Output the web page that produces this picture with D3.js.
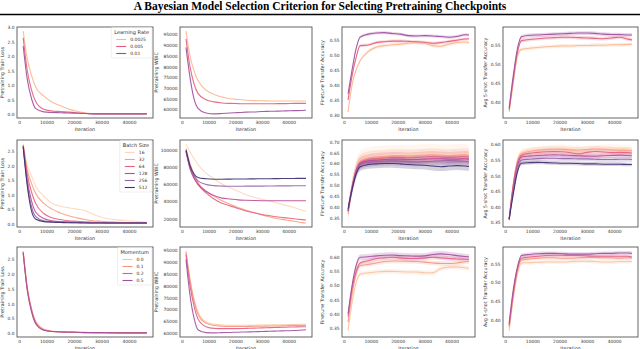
<!DOCTYPE html>
<html>
<head>
<meta charset="utf-8">
<script src="https://cdn.jsdelivr.net/npm/d3@7"></script>
<style>
body { margin: 0; background: #fff; }
svg { display: block; font-family: "DejaVu Sans", sans-serif; }
</style>
</head>
<body>
<svg id="chart" width="640" height="349"></svg>
<script>
// Data
//= ================================
var iters = [1500, 3000, 4500, 6000, 9000, 12000, 15000, 18000, 21000, 24000, 27000, 30000, 33000, 36000, 39000, 42000, 45000, 46500];
var xTicks = [0, 10000, 20000, 30000, 40000];

// row 1: learning rate
var lrNames = ["0.0025", "0.005", "0.01"];
var lrLoss = [
  [2.87, 1.90, 1.35, 0.95, 0.62, 0.42, 0.29, 0.18, 0.10, 0.04, 0.02, 0.01, 0.01, 0.01, 0.01, 0.01, 0.01, 0.01],
  [2.64, 1.50, 0.85, 0.45, 0.17, 0.11, 0.09, 0.07, 0.05, 0.03, 0.01, 0.01, 0.01, 0.01, 0.01, 0.01, 0.01, 0.01],
  [2.35, 1.20, 0.55, 0.20, 0.08, 0.06, 0.05, 0.04, 0.03, 0.02, 0.01, 0.01, 0.01, 0.01, 0.01, 0.01, 0.01, 0.01]
];
var lrWbic = [
  [96600, 85000, 78000, 73500, 69000, 67000, 65800, 65000, 64600, 64300, 64100, 64000, 63900, 63900, 63900, 63900, 63900, 63900],
  [93000, 80000, 72000, 67500, 64500, 63500, 63000, 62800, 62700, 62600, 62600, 62600, 62600, 62700, 62700, 62800, 62800, 62800],
  [89000, 75000, 65000, 60500, 58300, 57900, 58100, 58300, 58500, 58700, 58800, 59000, 59100, 59200, 59300, 59400, 59500, 59600]
];
var lrFinetune = [
  [0.310, 0.400, 0.450, 0.480, 0.510, 0.525, 0.530, 0.533, 0.535, 0.538, 0.540, 0.537, 0.530, 0.528, 0.535, 0.540, 0.542, 0.540],
  [0.350, 0.430, 0.490, 0.530, 0.532, 0.540, 0.543, 0.545, 0.545, 0.544, 0.543, 0.541, 0.538, 0.540, 0.544, 0.548, 0.552, 0.553],
  [0.370, 0.450, 0.520, 0.558, 0.568, 0.572, 0.573, 0.570, 0.568, 0.563, 0.562, 0.563, 0.562, 0.560, 0.558, 0.560, 0.566, 0.565]
];
var lrFinetuneBand = [0.006, 0.005, 0.005];
var lrFewshot = [
  [0.375, 0.450, 0.520, 0.540, 0.543, 0.545, 0.547, 0.548, 0.549, 0.549, 0.550, 0.550, 0.551, 0.551, 0.552, 0.552, 0.553, 0.553],
  [0.380, 0.460, 0.530, 0.563, 0.566, 0.568, 0.570, 0.571, 0.572, 0.572, 0.571, 0.570, 0.569, 0.568, 0.570, 0.572, 0.567, 0.565],
  [0.385, 0.470, 0.540, 0.573, 0.577, 0.578, 0.579, 0.580, 0.581, 0.582, 0.583, 0.583, 0.582, 0.580, 0.579, 0.579, 0.578, 0.578]
];
var lrFewshotBand = [0.005, 0.005, 0.005];

// row 2: batch size
var bsNames = ["16", "32", "64", "128", "256", "512"];
var bsLoss = [
  [2.75, 2.00, 1.65, 1.30, 0.95, 0.70, 0.60, 0.55, 0.50, 0.45, 0.32, 0.22, 0.16, 0.13, 0.10, 0.08, 0.06, 0.05],
  [2.72, 1.85, 1.40, 1.05, 0.70, 0.50, 0.37, 0.27, 0.20, 0.14, 0.10, 0.08, 0.06, 0.05, 0.04, 0.04, 0.03, 0.03],
  [2.70, 1.70, 1.10, 0.70, 0.35, 0.20, 0.14, 0.10, 0.08, 0.06, 0.05, 0.04, 0.03, 0.03, 0.03, 0.02, 0.02, 0.02],
  [2.68, 1.50, 0.80, 0.40, 0.18, 0.10, 0.07, 0.06, 0.05, 0.04, 0.03, 0.03, 0.02, 0.02, 0.02, 0.02, 0.02, 0.02],
  [2.66, 1.38, 0.60, 0.25, 0.10, 0.07, 0.05, 0.04, 0.03, 0.03, 0.02, 0.02, 0.02, 0.02, 0.02, 0.02, 0.02, 0.02],
  [2.65, 1.30, 0.45, 0.16, 0.07, 0.05, 0.04, 0.03, 0.03, 0.02, 0.02, 0.02, 0.02, 0.02, 0.02, 0.02, 0.02, 0.02]
];
var bsWbic = [
  [107000, 98000, 90000, 83000, 73000, 66500, 60500, 56000, 52000, 48000, 45000, 42500, 40500, 38000, 35500, 33000, 30000, 28500],
  [102000, 84000, 72000, 62000, 52000, 46000, 41000, 37000, 33000, 30000, 27000, 24500, 22000, 20000, 18500, 17000, 15500, 15000],
  [98000, 80000, 68000, 60000, 50000, 43000, 38000, 35000, 32000, 29000, 27000, 25000, 23500, 22000, 21000, 20000, 19000, 18500],
  [99000, 78000, 67000, 60000, 52000, 47000, 44000, 43000, 42000, 41500, 41200, 41000, 41000, 41000, 41000, 41000, 41000, 41000],
  [99000, 80000, 70000, 64000, 60000, 58500, 58000, 57800, 57800, 57900, 58000, 58000, 58100, 58200, 58200, 58300, 58300, 58300],
  [100000, 82000, 72000, 68000, 66500, 66000, 66000, 66100, 66200, 66300, 66400, 66500, 66600, 66700, 66800, 66900, 67000, 67000]
];
var bsFinetune = [
  [0.370, 0.490, 0.575, 0.615, 0.630, 0.635, 0.638, 0.640, 0.642, 0.640, 0.642, 0.645, 0.645, 0.643, 0.642, 0.645, 0.645, 0.642],
  [0.370, 0.490, 0.570, 0.610, 0.625, 0.630, 0.632, 0.635, 0.635, 0.634, 0.636, 0.638, 0.640, 0.638, 0.636, 0.638, 0.640, 0.638],
  [0.380, 0.490, 0.570, 0.605, 0.618, 0.622, 0.625, 0.628, 0.628, 0.626, 0.628, 0.630, 0.632, 0.630, 0.628, 0.630, 0.632, 0.630],
  [0.380, 0.490, 0.565, 0.600, 0.612, 0.615, 0.618, 0.620, 0.620, 0.618, 0.618, 0.620, 0.622, 0.622, 0.620, 0.620, 0.622, 0.620],
  [0.380, 0.480, 0.560, 0.595, 0.605, 0.608, 0.610, 0.612, 0.610, 0.608, 0.607, 0.608, 0.610, 0.612, 0.613, 0.612, 0.610, 0.608],
  [0.390, 0.480, 0.550, 0.585, 0.595, 0.598, 0.600, 0.600, 0.598, 0.595, 0.593, 0.592, 0.588, 0.585, 0.588, 0.590, 0.588, 0.586]
];
var bsFinetuneBand = [0.045, 0.03, 0.025, 0.02, 0.02, 0.02];
var bsFewshot = [
  [0.360, 0.470, 0.550, 0.572, 0.580, 0.583, 0.585, 0.587, 0.588, 0.586, 0.585, 0.584, 0.585, 0.588, 0.590, 0.588, 0.586, 0.584],
  [0.360, 0.470, 0.545, 0.570, 0.578, 0.582, 0.584, 0.585, 0.585, 0.583, 0.582, 0.584, 0.586, 0.585, 0.583, 0.582, 0.582, 0.580],
  [0.360, 0.470, 0.540, 0.565, 0.572, 0.575, 0.577, 0.578, 0.577, 0.574, 0.570, 0.575, 0.578, 0.576, 0.574, 0.575, 0.574, 0.573],
  [0.360, 0.460, 0.530, 0.560, 0.563, 0.565, 0.566, 0.567, 0.566, 0.565, 0.564, 0.563, 0.563, 0.564, 0.565, 0.566, 0.565, 0.564],
  [0.360, 0.450, 0.520, 0.550, 0.553, 0.555, 0.556, 0.556, 0.555, 0.555, 0.554, 0.554, 0.553, 0.552, 0.552, 0.553, 0.553, 0.552],
  [0.360, 0.440, 0.510, 0.540, 0.542, 0.543, 0.542, 0.541, 0.540, 0.540, 0.539, 0.538, 0.538, 0.537, 0.537, 0.537, 0.536, 0.536]
];
var bsFewshotBand = [0.012, 0.01, 0.01, 0.008, 0.008, 0.006];

// row 3: momentum
var mNames = ["0.0", "0.1", "0.2", "0.5"];
var mLoss = [
  [2.78, 1.55, 0.85, 0.42, 0.14, 0.07, 0.05, 0.04, 0.03, 0.03, 0.02, 0.02, 0.02, 0.02, 0.01, 0.01, 0.01, 0.01],
  [2.76, 1.52, 0.82, 0.39, 0.12, 0.06, 0.05, 0.04, 0.03, 0.03, 0.02, 0.02, 0.02, 0.02, 0.01, 0.01, 0.01, 0.01],
  [2.74, 1.48, 0.78, 0.36, 0.11, 0.06, 0.05, 0.04, 0.03, 0.02, 0.02, 0.02, 0.02, 0.01, 0.01, 0.01, 0.01, 0.01],
  [2.72, 1.45, 0.74, 0.33, 0.10, 0.06, 0.04, 0.03, 0.03, 0.02, 0.02, 0.02, 0.01, 0.01, 0.01, 0.01, 0.01, 0.01]
];
var mWbic = [
  [94500, 83000, 74500, 69000, 64800, 63800, 63500, 63400, 63400, 63400, 63400, 63500, 63500, 63600, 63600, 63700, 63800, 63800],
  [94000, 82000, 73500, 68000, 64200, 63300, 63000, 62900, 62900, 62900, 63000, 63000, 63100, 63100, 63200, 63300, 63300, 63400],
  [93000, 80000, 71500, 66000, 62800, 62100, 62000, 62000, 62000, 62100, 62200, 62300, 62400, 62500, 62600, 62700, 62800, 62800],
  [91000, 76000, 66500, 61500, 60300, 60200, 60300, 60400, 60500, 60600, 60700, 60800, 60900, 61000, 61100, 61200, 61400, 61500]
];
var mFinetune = [
  [0.340, 0.440, 0.510, 0.540, 0.545, 0.548, 0.550, 0.550, 0.549, 0.548, 0.548, 0.545, 0.545, 0.560, 0.565, 0.566, 0.563, 0.560],
  [0.370, 0.470, 0.540, 0.570, 0.575, 0.580, 0.585, 0.587, 0.587, 0.586, 0.585, 0.583, 0.580, 0.578, 0.578, 0.580, 0.584, 0.585],
  [0.390, 0.490, 0.550, 0.580, 0.588, 0.595, 0.598, 0.600, 0.598, 0.596, 0.596, 0.598, 0.600, 0.598, 0.596, 0.594, 0.593, 0.592],
  [0.400, 0.500, 0.570, 0.600, 0.602, 0.605, 0.607, 0.608, 0.606, 0.605, 0.604, 0.605, 0.610, 0.612, 0.610, 0.606, 0.603, 0.602]
];
var mFinetuneBand = [0.008, 0.008, 0.008, 0.01];
var mFewshot = [
  [0.370, 0.455, 0.520, 0.552, 0.553, 0.554, 0.555, 0.555, 0.555, 0.556, 0.557, 0.557, 0.556, 0.555, 0.555, 0.556, 0.556, 0.556],
  [0.380, 0.465, 0.530, 0.560, 0.563, 0.565, 0.566, 0.566, 0.565, 0.565, 0.566, 0.567, 0.567, 0.566, 0.566, 0.565, 0.566, 0.566],
  [0.385, 0.470, 0.535, 0.565, 0.568, 0.570, 0.572, 0.573, 0.573, 0.572, 0.572, 0.571, 0.570, 0.570, 0.570, 0.570, 0.570, 0.568],
  [0.390, 0.480, 0.540, 0.572, 0.575, 0.577, 0.578, 0.578, 0.577, 0.576, 0.576, 0.576, 0.577, 0.578, 0.578, 0.579, 0.579, 0.578]
];
var mFewshotBand = [0.005, 0.005, 0.005, 0.005];

// y tick labels per panel
var lossTicksA = [0, 0.5, 1, 1.5, 2, 2.5, 3];
var lossTicksB = [0, 0.5, 1, 1.5, 2, 2.5];
var wbicTicksA = [60000, 65000, 70000, 75000, 80000, 85000, 90000, 95000];
var wbicTicksB = [20000, 40000, 60000, 80000, 100000];
var ftTicksA = [0.30, 0.35, 0.40, 0.45, 0.50, 0.55];
var ftTicksB = [0.35, 0.40, 0.45, 0.50, 0.55, 0.60, 0.65, 0.70];
var ftTicksC = [0.35, 0.40, 0.45, 0.50, 0.55, 0.60];
var fsTicksA = [0.40, 0.45, 0.50, 0.55];
var fsTicksB = [0.35, 0.40, 0.45, 0.50, 0.55, 0.60];

var yLabels = ["Pretraining Train Loss", "Pretraining WBIC", "Finetune Transfer Accuracy", "Avg 5-shot Transfer Accuracy"];

// Set up layout
//= ================================
var lrColors = ["#fbb68d", "#e35d7a", "#9c4b9c"];
var bsColors = ["#fdd6bb", "#f8a07f", "#e6617c", "#bb4a97", "#9563a8", "#3c2d6d"];
var mColors = ["#fcc19a", "#f59481", "#e15e82", "#a24d9d"];

var colX = [[17, 153], [180, 312], [342, 475], [503, 638]];
var rowY = [[27, 118], [140, 227], [247, 337]];
var labelOff = [13, 22, 18, 16];

var rows = [
  {names: lrNames, colors: lrColors, title: "Learning Rate", panels: [
    {series: lrLoss, ticks: lossTicksA, fmt: ".1f"},
    {series: lrWbic, ticks: wbicTicksA, fmt: "d"},
    {series: lrFinetune, band: lrFinetuneBand, ticks: ftTicksA, fmt: ".2f"},
    {series: lrFewshot, band: lrFewshotBand, ticks: fsTicksA, fmt: ".2f"}]},
  {names: bsNames, colors: bsColors, title: "Batch Size", panels: [
    {series: bsLoss, ticks: lossTicksB, fmt: ".1f"},
    {series: bsWbic, ticks: wbicTicksB, fmt: "d"},
    {series: bsFinetune, band: bsFinetuneBand, ticks: ftTicksB, fmt: ".2f"},
    {series: bsFewshot, band: bsFewshotBand, ticks: fsTicksB, fmt: ".2f"}]},
  {names: mNames, colors: mColors, title: "Momentum", panels: [
    {series: mLoss, ticks: lossTicksB, fmt: ".1f"},
    {series: mWbic, ticks: wbicTicksA, fmt: "d"},
    {series: mFinetune, band: mFinetuneBand, ticks: ftTicksC, fmt: ".2f"},
    {series: mFewshot, band: mFewshotBand, ticks: fsTicksA, fmt: ".2f"}]}
];

var svg = d3.select("#chart");

// title + rule
svg.append("text")
  .attr("x", 320)
  .attr("y", 10)
  .attr("text-anchor", "middle")
  .style("font-family", "'Liberation Serif', 'Times New Roman', serif")
  .style("font-weight", "bold")
  .style("font-size", "11.5px")
  .text("A Bayesian Model Selection Criterion for Selecting Pretraining Checkpoints");

svg.append("line")
  .attr("x1", 0).attr("x2", 640)
  .attr("y1", 14.5).attr("y2", 14.5)
  .attr("stroke", "#000")
  .attr("stroke-width", 1.4);

// matplotlib style 5% margins
function padded(lo, hi) {
  var m = (hi - lo) * 0.05;
  return [lo - m, hi + m];
}

var xExt = d3.extent(iters);

rows.forEach(function(row, ri) {
  var y0 = rowY[ri][0], y1 = rowY[ri][1];

  row.panels.forEach(function(p, ci) {
    var x0 = colX[ci][0], x1 = colX[ci][1];
    var g = svg.append("g");

    var xScale = d3.scaleLinear().domain(padded(xExt[0], xExt[1])).range([x0, x1]);

    var lo = d3.min(p.series, (s, i) => d3.min(s) - (p.band ? p.band[i] : 0));
    var hi = d3.max(p.series, (s, i) => d3.max(s) + (p.band ? p.band[i] : 0));
    var yScale = d3.scaleLinear().domain(padded(lo, hi)).range([y1, y0]);

    // bands
    if (p.band) {
      var area = d3.area()
        .curve(d3.curveMonotoneX)
        .x((d, i) => xScale(iters[i]));
      p.series.forEach(function(s, si) {
        g.append("path")
          .attr("d", area.y0(d => yScale(d - p.band[si])).y1(d => yScale(d + p.band[si]))(s))
          .attr("fill", row.colors[si])
          .attr("opacity", 0.22);
      });
    }

    var line = d3.line()
      .curve(d3.curveMonotoneX)
      .x((d, i) => xScale(iters[i]))
      .y(d => yScale(d));

    p.series.forEach(function(s, si) {
      g.append("path")
        .attr("d", line(s))
        .attr("fill", "none")
        .attr("stroke", row.colors[si])
        .attr("stroke-width", 1.1)
        .attr("opacity", 0.9);
    });

    // axes
    var yAxis = g.append("g")
      .attr("transform", `translate(${x0}, 0)`)
      .call(d3.axisLeft(yScale).tickValues(p.ticks).tickSize(0).tickPadding(2.5).tickFormat(d3.format(p.fmt)));
    var xAxis = g.append("g")
      .attr("transform", `translate(0, ${y1})`)
      .call(d3.axisBottom(xScale).tickValues(xTicks).tickSize(0).tickPadding(3).tickFormat(d3.format("d")));
    [yAxis, xAxis].forEach(function(a) {
      a.select(".domain").remove();
      a.selectAll("text")
        .style("font-size", "4.4px")
        .style("font-family", "'DejaVu Sans', sans-serif")
        .attr("fill", "#333");
    });

    // frame
    g.append("rect")
      .attr("x", x0).attr("y", y0)
      .attr("width", x1 - x0).attr("height", y1 - y0)
      .attr("fill", "none")
      .attr("stroke", "#555")
      .attr("stroke-width", 0.9);

    // axis labels
    g.append("text")
      .attr("transform", `translate(${x0 - labelOff[ci]}, ${(y0 + y1) / 2}) rotate(-90)`)
      .attr("text-anchor", "middle")
      .style("font-size", "4.8px")
      .attr("fill", "#333")
      .text(yLabels[ci]);

    g.append("text")
      .attr("x", (x0 + x1) / 2)
      .attr("y", y1 + 12.5)
      .attr("text-anchor", "middle")
      .style("font-size", "4.8px")
      .attr("fill", "#333")
      .text("Iteration");
  });

  // legend in first panel, upper right
  var lg = svg.append("g");
  var right = colX[0][1] - 1;
  var top = y0 + 0.5;
  var box = lg.append("rect");
  var title = lg.append("text")
    .style("font-size", "5px")
    .attr("fill", "#333")
    .attr("text-anchor", "middle")
    .text(row.title);
  var w = title.node().getComputedTextLength() + 6;
  var left = right - w;
  var h = 12 + 7 * (row.names.length - 1) + 4.5;
  box.attr("x", left).attr("y", top)
    .attr("width", w).attr("height", h)
    .attr("rx", 1)
    .attr("fill", "#fff")
    .attr("fill-opacity", 0.85)
    .attr("stroke", "#ddd")
    .attr("stroke-width", 0.5);
  title.attr("x", left + w / 2).attr("y", top + 6.5);

  row.names.forEach(function(n, i) {
    var ly = top + 12 + 7 * i;
    lg.append("line")
      .attr("x1", left + 5).attr("x2", left + 15)
      .attr("y1", ly).attr("y2", ly)
      .attr("stroke", row.colors[i])
      .attr("stroke-width", 1.1);
    lg.append("text")
      .attr("x", left + 19)
      .attr("y", ly)
      .attr("dy", "0.35em")
      .style("font-size", "4.5px")
      .attr("fill", "#333")
      .text(n);
  });
});
</script>
</body>
</html>
